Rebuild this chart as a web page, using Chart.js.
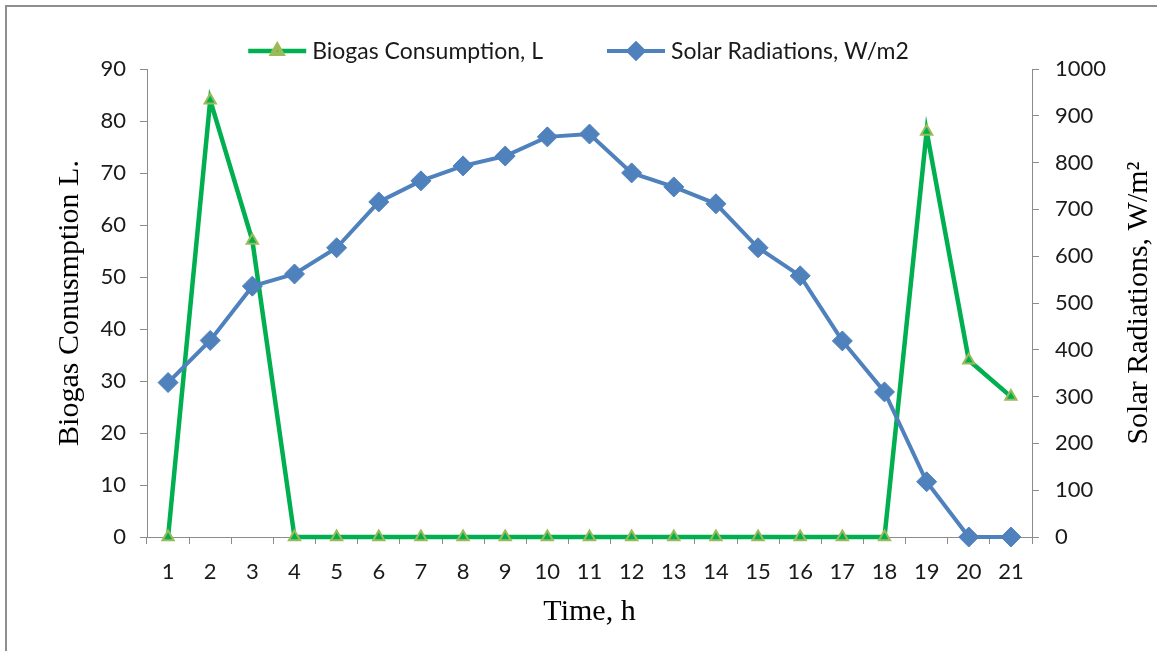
<!DOCTYPE html>
<html>
<head>
<meta charset="utf-8">
<title>Biogas Consumption and Solar Radiations</title>
<script src="https://cdn.jsdelivr.net/npm/chart.js@4.4.1/dist/chart.umd.min.js"></script>
<style>
  html, body { margin: 0; padding: 0; background: #fff; overflow: hidden; }
  #frame {
    position: absolute; left: 5px; top: 5px; width: 1300px; height: 800px;
    border: 2px solid #8e8e8e;
  }
  #wrap { position: absolute; left: 0; top: 0; width: 1157px; height: 651px; }
</style>
</head>
<body>
<div id="frame"></div>
<div id="wrap"><canvas id="chart" width="1157" height="651"></canvas></div>
<script>
// ------------------------------------------------------
// DATA
// ------------------------------------------------------
const hours = ["1", "2", "3", "4", "5", "6", "7", "8", "9", "10", "11",
  "12", "13", "14", "15", "16", "17", "18", "19", "20", "21"];

const biogas = [0, 84, 57, 0, 0, 0, 0, 0, 0, 0, 0,
  0, 0, 0, 0, 0, 0, 0, 78, 34, 27];

const solar = [330, 420, 536, 562, 618, 716, 761, 793, 814, 855, 861,
  778, 748, 712, 618, 558, 419, 310, 118, 0, 0];

const biogasLabel = "Biogas Consumption, L";
const solarLabel = "Solar Radiations, W/m2";
const rightTitle = "Solar Radiations, W/m\u00B2";

// ------------------------------------------------------
// Styles
// ------------------------------------------------------
const GREEN = "#00B050";
const GREEN_EDGE = "#9BBB59";
const BLUE = "#4F81BD";
const AXIS = "#8c8c8c";
const SERIF = "'Liberation Serif', 'Times New Roman', serif";

Chart.defaults.font.family = "Lato, 'Open Sans', sans-serif";
Chart.defaults.color = "#1a1a1a";

// legend drawn like the excel one: short line + marker + text
const excelLegend = {
  id: "excelLegend",
  afterDraw(chart) {
    const ctx = chart.ctx;
    const y = 51;
    const lineLen = 58;
    const gapText = 6;
    const gapItems = 64;

    ctx.save();
    ctx.font = "23px Lato, 'Open Sans', sans-serif";
    ctx.textBaseline = "middle";
    ctx.textAlign = "left";

    const items = chart.data.datasets.map(function (ds) {
      return { ds: ds, w: ctx.measureText(ds.label).width };
    });

    let total = 0;
    items.forEach(function (it, i) {
      total += lineLen + gapText + it.w + (i > 0 ? gapItems : 0);
    });

    let x = chart.width / 2 - total / 2;
    items.forEach(function (it) {
      const ds = it.ds;
      ctx.strokeStyle = ds.borderColor;
      ctx.lineWidth = ds.borderWidth;
      ctx.beginPath();
      ctx.moveTo(x, y);
      ctx.lineTo(x + lineLen, y);
      ctx.stroke();

      ctx.fillStyle = ds.pointBackgroundColor;
      ctx.strokeStyle = ds.pointBorderColor;
      Chart.helpers.drawPoint(ctx, {
        pointStyle: ds.pointStyle,
        radius: ds.legendRadius,
        rotation: 0,
        borderWidth: ds.pointBorderWidth,
      }, x + lineLen / 2, y);

      ctx.fillStyle = "#1a1a1a";
      ctx.fillText(ds.label, x + lineLen + gapText, y + 1);
      x += lineLen + gapText + it.w + gapItems;
    });
    ctx.restore();
  },
};

// right axis title reads bottom-to-top, like the left one
const rightAxisTitle = {
  id: "rightAxisTitle",
  afterDraw(chart) {
    const ctx = chart.ctx;
    const area = chart.chartArea;
    ctx.save();
    ctx.translate(1139, (area.top + area.bottom) / 2);
    ctx.rotate(-Math.PI / 2);
    ctx.font = "30px " + SERIF;
    ctx.fillStyle = "#000";
    ctx.textAlign = "center";
    ctx.textBaseline = "middle";
    ctx.fillText(rightTitle, 0, 0);
    ctx.restore();
  },
};

// ------------------------------------------------------
// CHART
// ------------------------------------------------------
const ctx = document.getElementById("chart").getContext("2d");

new Chart(ctx, {
  type: "line",
  data: {
    labels: hours,
    datasets: [
      {
        label: biogasLabel,
        data: biogas,
        yAxisID: "y",
        borderColor: GREEN,
        borderWidth: 4.5,
        pointStyle: "triangle",
        pointRadius: 6.5,
        legendRadius: 5.5,
        pointBackgroundColor: GREEN,
        pointBorderColor: GREEN_EDGE,
        pointBorderWidth: 2,
        tension: 0,
        clip: false,
        order: 1,
      },
      {
        label: solarLabel,
        data: solar,
        yAxisID: "y1",
        borderColor: BLUE,
        borderWidth: 4,
        pointStyle: "rectRot",
        pointRadius: 10,
        legendRadius: 7.5,
        pointBackgroundColor: BLUE,
        pointBorderColor: BLUE,
        pointBorderWidth: 1,
        tension: 0,
        clip: false,
        order: 0,
      },
    ],
  },
  options: {
    responsive: false,
    animation: false,
    layout: { padding: { top: 69, left: 0, right: 0, bottom: 0 } },
    plugins: {
      legend: { display: false },
      tooltip: { enabled: false },
    },
    scales: {
      x: {
        offset: true,
        grid: {
          offset: true,
          drawOnChartArea: false,
          drawTicks: true,
          tickLength: 7,
          color: AXIS,
        },
        border: { color: AXIS, width: 1 },
        ticks: { font: { size: 22 }, padding: 15, maxRotation: 0, autoSkip: false },
        title: {
          display: true,
          text: "Time, h",
          font: { family: SERIF, size: 30 },
          color: "#000",
          padding: { top: 0, bottom: 21 },
        },
        afterFit: function (scale) { scale.height = 114; },
      },
      y: {
        position: "left",
        min: 0,
        max: 90,
        ticks: { stepSize: 10, font: { size: 22 }, padding: 14 },
        grid: {
          drawOnChartArea: false,
          drawTicks: true,
          tickLength: 7,
          color: AXIS,
        },
        border: { color: AXIS, width: 1 },
        title: {
          display: true,
          text: "Biogas Conusmption L.",
          font: { family: SERIF, size: 30 },
          color: "#000",
          padding: { top: 52, bottom: 0 },
        },
        afterFit: function (scale) { scale.width = 147; },
      },
      y1: {
        position: "right",
        min: 0,
        max: 1000,
        ticks: {
          stepSize: 100,
          font: { size: 22 },
          padding: 16,
          callback: function (v) { return String(v); },
        },
        grid: {
          drawOnChartArea: false,
          drawTicks: true,
          tickLength: 7,
          color: AXIS,
        },
        border: { color: AXIS, width: 1 },
        afterFit: function (scale) { scale.width = 125; },
      },
    },
  },
  plugins: [excelLegend, rightAxisTitle],
});
</script>
</body>
</html>
